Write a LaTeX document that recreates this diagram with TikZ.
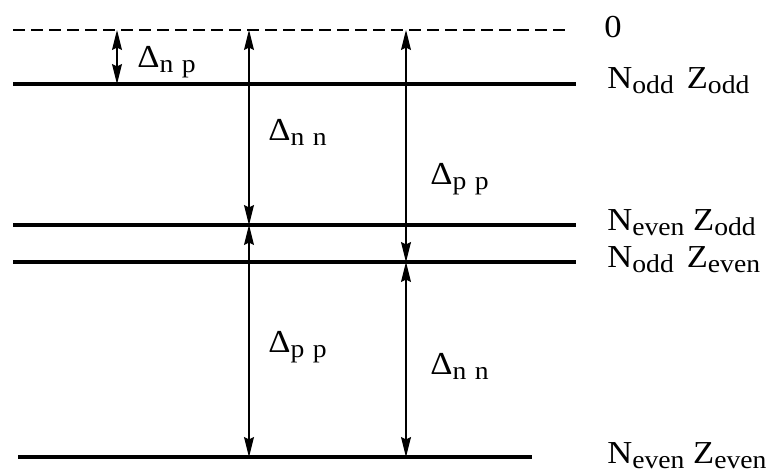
\documentclass[tikz,border=0pt]{standalone}
\usepackage{fontspec}
\setmainfont[FakeStretch=1.08]{Liberation Serif}
\usetikzlibrary{arrows.meta}
\definecolor{Ink}{HTML}{000000}
\newcommand{\idx}[1]{\raisebox{-0.35ex}{\fontsize{12.8}{15}\selectfont #1}}

\begin{document}
\begin{tikzpicture}[x=0.5pt, y=-0.5pt,
    levelline/.style={Ink,line width=1.7pt},
    zeroline/.style={Ink,line width=1.2pt,dash pattern=on 6pt off 3pt},
    gaparrow/.style={Ink,line width=0.6pt,{Stealth[length=10pt,width=5pt,inset=1.2pt]}-{Stealth[length=10pt,width=5pt,inset=1.2pt]}},
    gaplabel/.style={anchor=base west,inner sep=0pt,font=\fontsize{16}{19}\selectfont},
    statelabel/.style={anchor=base west,inner sep=0pt,font=\fontsize{16}{19}\selectfont}]
    \useasboundingbox (0,0) rectangle (767,473);
    % levels
    \coordinate (zeroL) at (13,30);  \coordinate (zeroR) at (566,30);
    \coordinate (ooL) at (13,84);    \coordinate (ooR) at (576,84);
    \coordinate (eoL) at (13,225);   \coordinate (eoR) at (576,225);
    \coordinate (oeL) at (13,262);   \coordinate (oeR) at (576,262);
    \coordinate (eeL) at (18,457);   \coordinate (eeR) at (532,457);
    \draw[zeroline] (zeroL) -- (zeroR);
    \draw[levelline] (ooL) -- (ooR);
    \draw[levelline] (eoL) -- (eoR);
    \draw[levelline] (oeL) -- (oeR);
    \draw[levelline] (eeL) -- (eeR);
    % arrow columns
    \coordinate (colA) at (117,0);
    \coordinate (colB) at (249,0);
    \coordinate (colC) at (406,0);
    \draw[gaparrow] (zeroL -| colA) -- (ooL -| colA);
    \draw[gaparrow] (zeroL -| colB) -- (eoL -| colB);
    \draw[gaparrow] (zeroL -| colC) -- (oeL -| colC);
    \draw[gaparrow] (eoL -| colB) -- (eeL -| colB);
    \draw[gaparrow] (oeL -| colC) -- (eeL -| colC);
    % gap labels
    \node[gaplabel] (dnp) at (137,67) {Δ\idx{n\,\,p}};
    \node[gaplabel] (dnnA) at (268,140) {Δ\idx{n\,\,n}};
    \node[gaplabel] (dppA) at (430,184) {Δ\idx{p\,\,p}};
    \node[gaplabel] (dppB) at (268,352) {Δ\idx{p\,\,p}};
    \node[gaplabel] (dnnB) at (430,374) {Δ\idx{n\,\,n}};
    % state labels
    \node[statelabel] (zero) at (604,37) {0};
    \node[statelabel] (oo) at (607,88) {N\idx{odd}\hspace{6.5pt}Z\idx{odd}};
    \node[statelabel] (eo) at (607,230) {N\idx{even} Z\idx{odd}};
    \node[statelabel] (oe) at (607,267) {N\idx{odd}\hspace{6.5pt}Z\idx{even}};
    \node[statelabel] (ee) at (607,463) {N\idx{even} Z\idx{even}};
\end{tikzpicture}
\end{document}
